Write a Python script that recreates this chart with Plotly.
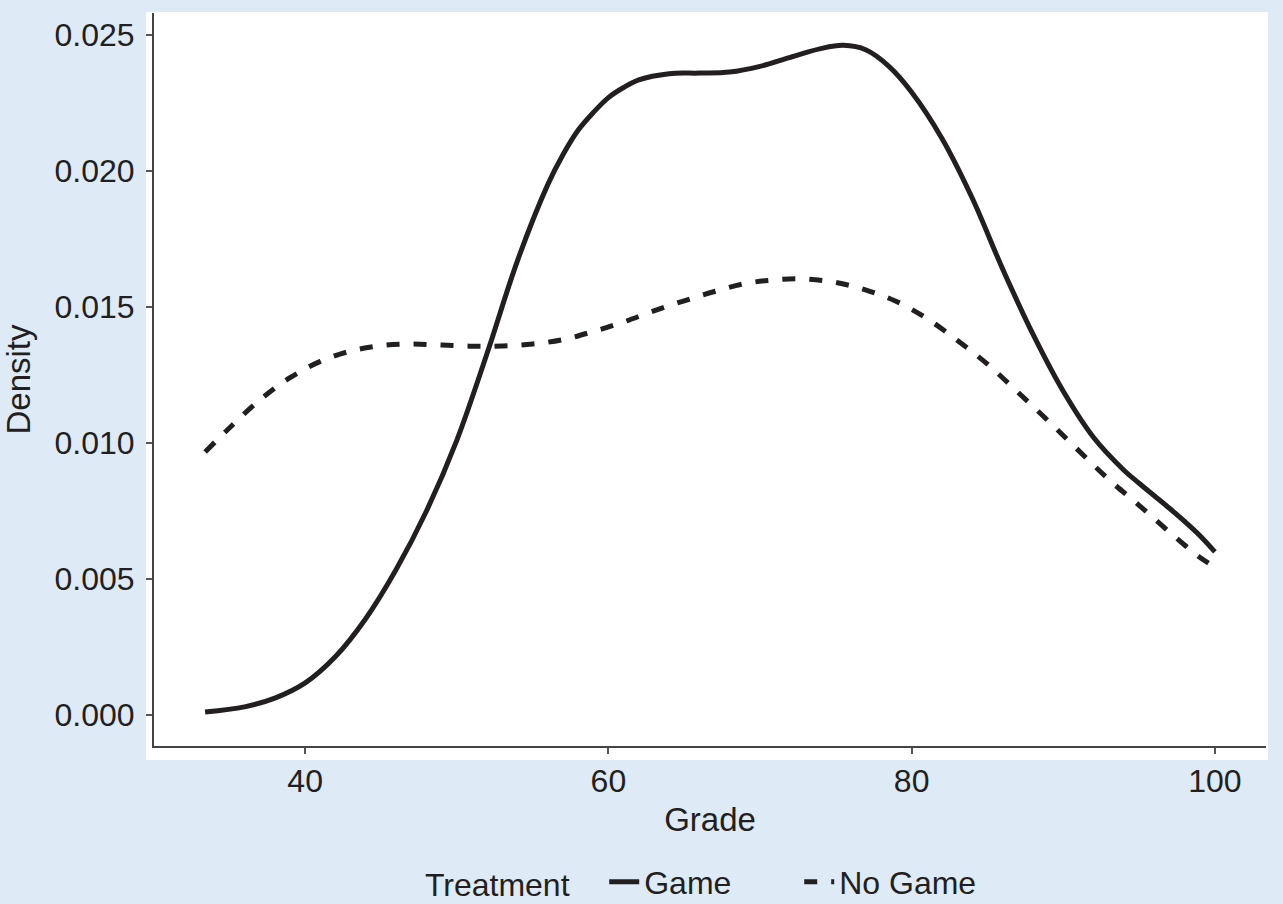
import plotly.graph_objects as go

# Density curves
game_x = [33.4, 36, 38, 40, 42, 44, 46, 48, 50, 52, 54, 56, 57, 58, 59, 60, 61, 62, 64, 66, 68,
          70, 72, 74, 75.5, 77, 78.5, 80, 82, 84, 86, 88, 90, 92, 94, 95, 96, 97, 98, 99, 100]
game_y = [0.00011, 0.00030, 0.00062, 0.00118, 0.00215, 0.00355, 0.00535, 0.0075, 0.0101,
          0.0133, 0.0167, 0.0195, 0.0206, 0.0215, 0.02215, 0.0227, 0.02307, 0.02335, 0.02358,
          0.0236, 0.02364, 0.02385, 0.02418, 0.0245, 0.02462, 0.02445, 0.02385, 0.0229, 0.0212,
          0.0190, 0.0164, 0.0140, 0.0119, 0.0102, 0.0090, 0.00852, 0.00806, 0.0076, 0.00712,
          0.0066, 0.0060]

nogame_x = [33.4, 35, 37, 39, 41, 43, 45, 47, 49, 51, 53, 55, 57, 59, 61, 63, 65, 67, 69, 71,
            73, 75, 77, 79, 81, 83, 85, 87, 89, 91, 93, 95, 97, 99, 100]
nogame_y = [0.00967, 0.01055, 0.01158, 0.01240, 0.01300, 0.01338, 0.01358, 0.01364, 0.0136,
            0.01356, 0.01357, 0.01364, 0.0138, 0.0141, 0.01445, 0.01486, 0.01523, 0.01557,
            0.01586, 0.0160, 0.01603, 0.0159, 0.01562, 0.0152, 0.01458, 0.01378, 0.0129,
            0.01187, 0.01082, 0.00973, 0.00866, 0.00771, 0.00673, 0.0058, 0.00544]

x_ticks = [40, 60, 80, 100]
y_ticks = [0.000, 0.005, 0.010, 0.015, 0.020, 0.025]
y_tick_labels = ["0.000", "0.005", "0.010", "0.015", "0.020", "0.025"]

INK = "#231f20"
BG = "#deeaf6"
FONT = "Liberation Sans, Arial, sans-serif"
FS = 32
TS = 33

fig = go.Figure()
fig.add_trace(go.Scatter(x=game_x, y=game_y, mode="lines", name="Game",
                         line=dict(color=INK, width=5, shape="spline", smoothing=1)))
fig.add_trace(go.Scatter(x=nogame_x, y=nogame_y, mode="lines", name="No Game",
                         line=dict(color=INK, width=5, dash="13px,14px", shape="spline", smoothing=1)))

fig.add_shape(type="rect", xref="paper", yref="paper", x0=-0.0072, x1=1.0018, y0=-0.0191, y1=1.0014,
              fillcolor="white", line=dict(width=0), layer="below")

fig.update_layout(
    width=1283, height=904,
    margin=dict(l=154, r=17, t=13, b=158, autoexpand=False),
    paper_bgcolor=BG, plot_bgcolor="white",
    font=dict(family=FONT, size=FS, color=INK),
    showlegend=True,
    legend=dict(orientation="h", x=0.499, xanchor="center", y=-0.1855, yanchor="middle",
                bgcolor="rgba(0,0,0,0)", font=dict(size=FS, color=INK),
                title=dict(text="Treatment\u00a0\u00a0\u00a0", font=dict(size=FS, color=INK)),
                itemwidth=30, entrywidth=150, entrywidthmode="pixels"),
)
fig.update_xaxes(range=[30.03, 103.37], tickvals=x_ticks, ticks="outside", ticklen=6,
                 tickcolor="#555555", tickwidth=2, showline=True, linecolor="#444444", linewidth=2,
                 showgrid=False, zeroline=False,
                 title=dict(text="Grade", standoff=9, font=dict(size=TS, color=INK)),
                 automargin=False, tickfont=dict(size=FS, color=INK))
fig.update_yaxes(range=[-0.00114, 0.02581], tickvals=y_ticks, ticktext=y_tick_labels,
                 ticks="outside", ticklen=6, tickcolor="#555555", tickwidth=2, showline=True,
                 linecolor="#444444", linewidth=2, showgrid=False, zeroline=False,
                 ticklabelstandoff=5, automargin=False,
                 title=dict(text="Density", standoff=16, font=dict(size=TS, color=INK)),
                 tickfont=dict(size=FS, color=INK))

fig.write_html("out.html", config={"displayModeBar": False},
               post_script="document.body.style.margin='0';")
